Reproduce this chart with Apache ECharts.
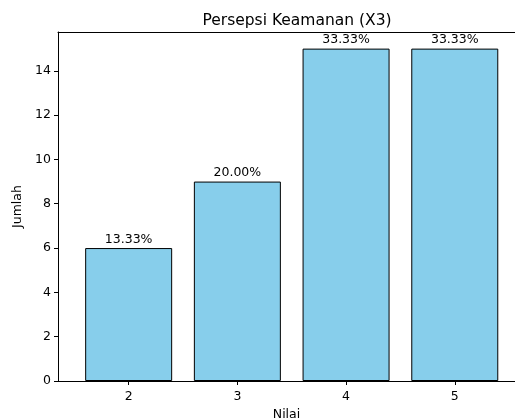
<!DOCTYPE html>
<html><head><meta charset="utf-8">
<script src="https://cdn.jsdelivr.net/npm/echarts@6/dist/echarts.min.js"></script>
<style>html,body{margin:0;padding:0;background:#fff}#c{width:515px;height:420px}</style>
</head><body><div id="c"></div>
<script>
const categories = [2, 3, 4, 5];
const values = [6, 9, 15, 15];
const percentLabels = ['13.33%', '20.00%', '33.33%', '33.33%'];
const yTicks = [0, 2, 4, 6, 8, 10, 12, 14];

const chart = echarts.init(document.getElementById('c'), null, {renderer: 'canvas'});
const font = 'DejaVu Sans';
chart.setOption({
  animation: false,
  backgroundColor: '#fff',
  title: {
    text: 'Persepsi Keamanan (X3)', left: 292, top: 8, textAlign: 'center',
    textStyle: {fontFamily: font, fontSize: 15.5, fontWeight: 'normal', color: '#000'}
  },
  grid: {left: 58, top: 32, right: 0, height: 349, show: false, containLabel: false, outerBoundsMode: 'none'},
  xAxis: [{
    type: 'value', min: 1.35, max: 5.554, interval: 1,
    name: 'Nilai', nameLocation: 'middle', nameGap: 25,
    nameTextStyle: {fontFamily: font, fontSize: 12.5, color: '#000'},
    axisLine: {show: true, lineStyle: {color: '#000'}},
    axisTick: {show: true, length: 4, lineStyle: {color: '#000'}, customValues: categories},
    axisLabel: {fontFamily: font, fontSize: 12.5, color: '#000', margin: 9, customValues: categories},
    splitLine: {show: false}
  }, {
    type: 'value', position: 'top', min: 1.35, max: 5.554,
    axisLine: {show: true, onZero: false, lineStyle: {color: '#000'}},
    axisTick: {show: false}, axisLabel: {show: false}, splitLine: {show: false}
  }],
  yAxis: {
    type: 'value', min: 0, max: 15.75,
    name: 'Jumlah', nameLocation: 'middle', nameGap: 34,
    nameTextStyle: {fontFamily: font, fontSize: 12.5, color: '#000'},
    axisLine: {show: true, lineStyle: {color: '#000'}},
    axisTick: {show: true, length: 4, lineStyle: {color: '#000'}, customValues: yTicks},
    axisLabel: {fontFamily: font, fontSize: 12.5, color: '#000', margin: 7, customValues: yTicks},
    splitLine: {show: false}
  },
  series: [{
    type: 'bar',
    xAxisIndex: 0,
    data: categories.map((c, i) => [c, values[i]]),
    barWidth: 87,
    itemStyle: {color: '#87CEEB', borderColor: '#000', borderWidth: 1},
    label: {
      show: true, position: 'top', distance: 2,
      fontFamily: font, fontSize: 12.5, color: '#000',
      formatter: p => percentLabels[p.dataIndex]
    }
  }]
});
</script></body></html>
